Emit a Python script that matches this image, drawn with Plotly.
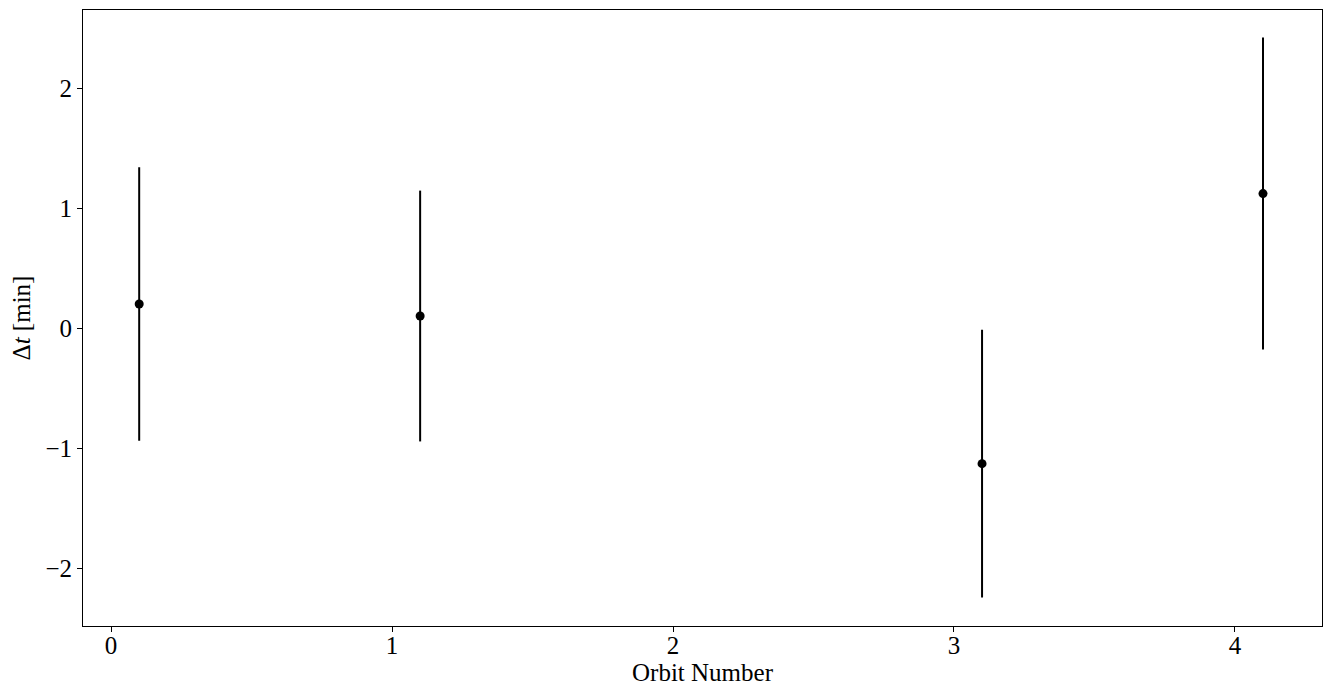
import plotly.graph_objects as go

# orbit timing residuals
orbit = [0.1, 1.1, 3.1, 4.1]
dt_min = [0.2, 0.1, -1.13, 1.12]
dt_err = [1.14, 1.045, 1.115, 1.30]

font_family = "Liberation Serif, Times New Roman, serif"

fig = go.Figure()
fig.add_trace(go.Scatter(
    x=orbit, y=dt_min, mode='markers',
    marker=dict(size=9, color='black'),
    error_y=dict(type='data', array=dt_err, visible=True,
                 color='black', thickness=2, width=0),
    showlegend=False))

axis_style = dict(showline=True, linecolor='black', linewidth=1, mirror=True,
                  showgrid=False, zeroline=False, ticks='outside', ticklen=5,
                  tickcolor='black', tickwidth=1,
                  tickfont=dict(size=25, color='black', family=font_family))

fig.update_xaxes(range=[-0.1, 4.31], dtick=1, ticklabelstandoff=-8,
                 title=dict(text='Orbit Number', standoff=2,
                            font=dict(size=25, color='black', family=font_family)), **axis_style)
fig.update_yaxes(range=[-2.483, 2.65], dtick=1,
                 title=dict(text='Δ<i>t</i> [min]', standoff=12,
                            font=dict(size=25, color='black', family=font_family)), **axis_style)

# page body has an 8px margin, so the figure is a bit smaller than the window
fig.update_layout(width=1315, height=683, plot_bgcolor='white', paper_bgcolor='white',
                  margin=dict(l=75, r=1, t=2, b=65),
                  font=dict(family=font_family, color='black'))

fig.write_html("out.html")
